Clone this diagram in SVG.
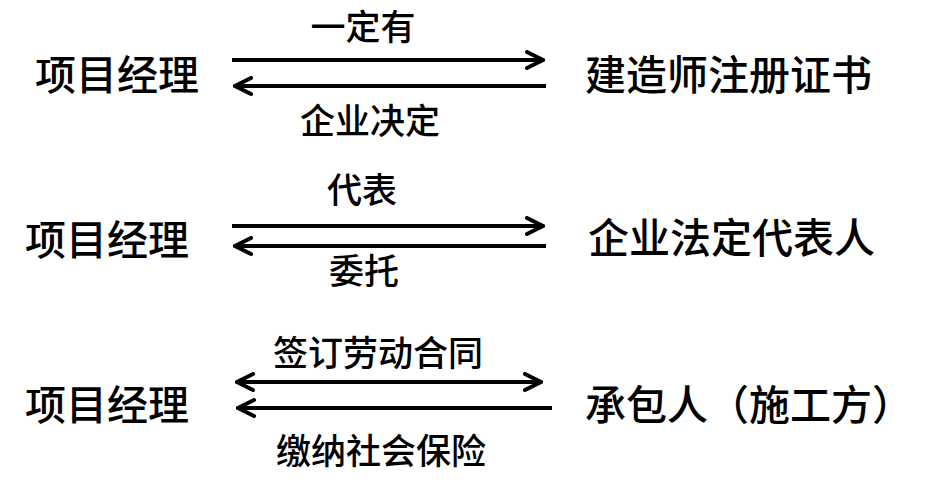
<svg xmlns="http://www.w3.org/2000/svg" width="926" height="480" viewBox="0 0 926 480">
<defs>
<style>
text{font-family:"Noto Sans CJK SC","Noto Sans CJK JP",sans-serif;fill:#000;font-weight:500}
.n{font-size:41px}
.l{font-size:35px;text-anchor:middle}
.a{stroke:#000;stroke-width:4;fill:none}
</style>
<marker id="h" viewBox="0 0 10 10" refX="9" refY="5" markerWidth="5" markerHeight="5" orient="auto-start-reverse" markerUnits="strokeWidth">
<path d="M1 1L9 5L1 9" fill="none" stroke="#000" stroke-width="2" stroke-linecap="round"/>
</marker>
</defs>
<rect width="926" height="480" fill="#fff"/>
<g id="pm1"><text class="n" x="35" y="90">项目经理</text></g>
<g id="cert"><text class="n" x="585" y="90">建造师注册证书</text></g>
<g id="pm2"><text class="n" x="25" y="255">项目经理</text></g>
<g id="rep"><text class="n" x="588" y="253">企业法定代表人</text></g>
<g id="pm3"><text class="n" x="25" y="420">项目经理</text></g>
<g id="contractor"><text class="n" x="585" y="420">承包人（施工方）</text></g>
<g id="connectors">
<line class="a" x1="232" y1="60" x2="543" y2="60" marker-end="url(#h)"/>
<line class="a" x1="546" y1="86" x2="235" y2="86" marker-end="url(#h)"/>
<line class="a" x1="232" y1="226" x2="543" y2="226" marker-end="url(#h)"/>
<line class="a" x1="546" y1="246" x2="235" y2="246" marker-end="url(#h)"/>
<line class="a" x1="237" y1="382" x2="541" y2="382" marker-start="url(#h)" marker-end="url(#h)"/>
<line class="a" x1="552" y1="408" x2="238" y2="408" marker-end="url(#h)"/>
<text class="l" x="363" y="40">一定有</text>
<text class="l" x="370" y="134">企业决定</text>
<text class="l" x="362" y="203">代表</text>
<text class="l" x="364" y="284">委托</text>
<text class="l" x="378" y="366">签订劳动合同</text>
<text class="l" x="381" y="464">缴纳社会保险</text>
</g>
</svg>
